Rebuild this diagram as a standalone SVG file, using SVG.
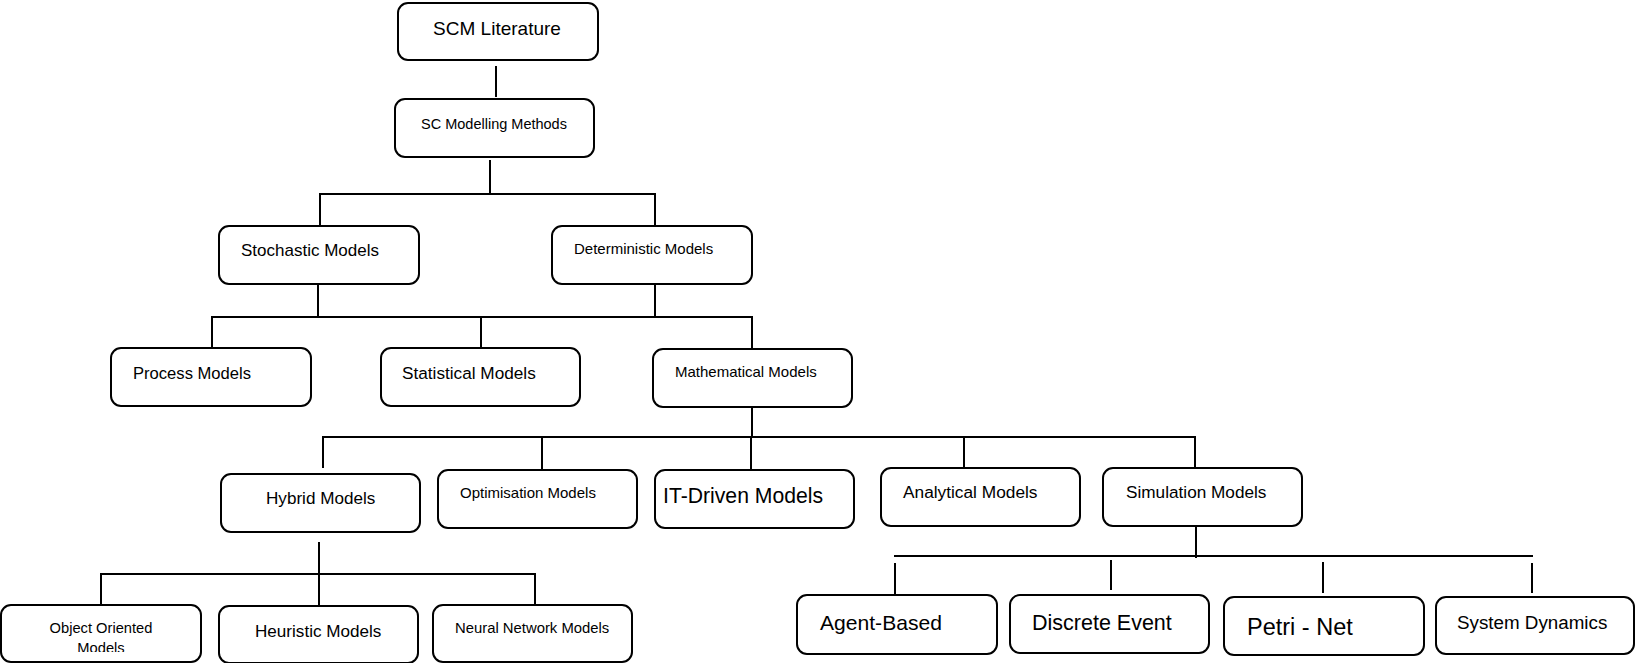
<svg xmlns="http://www.w3.org/2000/svg" width="1635" height="663" viewBox="0 0 1635 663">
<style>
  .box { fill: #ffffff; stroke: #000000; stroke-width: 2; }
  .t { font-family: "Liberation Sans", Arial, sans-serif; fill: #000000; }
  .conn line { stroke: #000000; stroke-width: 2; }
</style>
<defs>
  <clipPath id="clipOO"><rect x="0" y="606" width="200" height="46"/></clipPath>
</defs>
<rect x="0" y="0" width="1635" height="663" fill="#ffffff"/>

<g id="connectors" class="conn">
  <line x1="496" y1="66" x2="496" y2="97"/>
  <line x1="490" y1="160" x2="490" y2="194"/>
  <line x1="319" y1="194" x2="656" y2="194"/>
  <line x1="320" y1="194" x2="320" y2="226"/>
  <line x1="655" y1="194" x2="655" y2="226"/>
  <line x1="318" y1="285" x2="318" y2="316"/>
  <line x1="655" y1="285" x2="655" y2="316"/>
  <line x1="211" y1="317" x2="753" y2="317"/>
  <line x1="212" y1="317" x2="212" y2="348"/>
  <line x1="481" y1="317" x2="481" y2="348"/>
  <line x1="752" y1="317" x2="752" y2="349"/>
  <line x1="752" y1="407" x2="752" y2="438"/>
  <line x1="322" y1="437" x2="1196" y2="437"/>
  <line x1="323" y1="437" x2="323" y2="468"/>
  <line x1="542" y1="437" x2="542" y2="470"/>
  <line x1="751" y1="437" x2="751" y2="470"/>
  <line x1="964" y1="437" x2="964" y2="468"/>
  <line x1="1195" y1="437" x2="1195" y2="470"/>
  <line x1="319" y1="542" x2="319" y2="606"/>
  <line x1="100" y1="574" x2="536" y2="574"/>
  <line x1="101" y1="574" x2="101" y2="605"/>
  <line x1="535" y1="574" x2="535" y2="605"/>
  <line x1="1196" y1="527" x2="1196" y2="558"/>
  <line x1="894" y1="556" x2="1533" y2="556"/>
  <line x1="895" y1="563" x2="895" y2="594"/>
  <line x1="1111" y1="560" x2="1111" y2="590"/>
  <line x1="1323" y1="562" x2="1323" y2="593"/>
  <line x1="1532" y1="563" x2="1532" y2="593"/>
</g>

<g id="n-scm-literature">
  <rect class="box" x="398" y="3" width="200" height="57" rx="10"/>
  <text class="t" x="497" y="35" font-size="19" text-anchor="middle">SCM Literature</text>
</g>
<g id="n-sc-modelling-methods">
  <rect class="box" x="395" y="99" width="199" height="58" rx="10"/>
  <text class="t" x="494" y="129" font-size="14.5" text-anchor="middle">SC Modelling Methods</text>
</g>
<g id="n-stochastic">
  <rect class="box" x="219" y="226" width="200" height="58" rx="10"/>
  <text class="t" x="241" y="256" font-size="17">Stochastic Models</text>
</g>
<g id="n-deterministic">
  <rect class="box" x="552" y="226" width="200" height="58" rx="10"/>
  <text class="t" x="574" y="254" font-size="15">Deterministic Models</text>
</g>
<g id="n-process">
  <rect class="box" x="111" y="348" width="200" height="58" rx="10"/>
  <text class="t" x="133" y="379" font-size="16.6">Process Models</text>
</g>
<g id="n-statistical">
  <rect class="box" x="381" y="348" width="199" height="58" rx="10"/>
  <text class="t" x="402" y="379" font-size="17.2">Statistical Models</text>
</g>
<g id="n-mathematical">
  <rect class="box" x="653" y="349" width="199" height="58" rx="10"/>
  <text class="t" x="675" y="377" font-size="15">Mathematical Models</text>
</g>
<g id="n-hybrid">
  <rect class="box" x="221" y="474" width="199" height="58" rx="10"/>
  <text class="t" x="266" y="504" font-size="17.1">Hybrid Models</text>
</g>
<g id="n-optimisation">
  <rect class="box" x="438" y="470" width="199" height="58" rx="10"/>
  <text class="t" x="460" y="498" font-size="15">Optimisation Models</text>
</g>
<g id="n-it-driven">
  <rect class="box" x="655" y="470" width="199" height="58" rx="10"/>
  <text class="t" x="663" y="503" font-size="21.2">IT-Driven Models</text>
</g>
<g id="n-analytical">
  <rect class="box" x="881" y="468" width="199" height="58" rx="10"/>
  <text class="t" x="903" y="498" font-size="17.3">Analytical Models</text>
</g>
<g id="n-simulation">
  <rect class="box" x="1103" y="468" width="199" height="58" rx="10"/>
  <text class="t" x="1126" y="498" font-size="17.2">Simulation Models</text>
</g>
<g id="n-object-oriented">
  <rect class="box" x="1" y="605" width="200" height="57" rx="10"/>
  <g clip-path="url(#clipOO)">
    <text class="t" x="101" y="633" font-size="14.7" text-anchor="middle">Object Oriented</text>
    <text class="t" x="101" y="653" font-size="14.7" text-anchor="middle">Models</text>
  </g>
</g>
<g id="n-heuristic">
  <rect class="box" x="219" y="606" width="199" height="57" rx="10"/>
  <text class="t" x="255" y="637" font-size="17.1">Heuristic Models</text>
</g>
<g id="n-neural">
  <rect class="box" x="433" y="605" width="199" height="57" rx="10"/>
  <text class="t" x="455" y="633" font-size="14.85">Neural Network Models</text>
</g>
<g id="n-agent-based">
  <rect class="box" x="797" y="595" width="200" height="59" rx="10"/>
  <text class="t" x="820" y="630" font-size="21.1">Agent-Based</text>
</g>
<g id="n-discrete-event">
  <rect class="box" x="1010" y="595" width="199" height="58" rx="10"/>
  <text class="t" x="1032" y="630" font-size="21.5">Discrete Event</text>
</g>
<g id="n-petri-net">
  <rect class="box" x="1224" y="597" width="200" height="58" rx="10"/>
  <text class="t" x="1247" y="635" font-size="23.5">Petri - Net</text>
</g>
<g id="n-system-dynamics">
  <rect class="box" x="1436" y="597" width="198" height="57" rx="10"/>
  <text class="t" x="1457" y="629" font-size="18.8">System Dynamics</text>
</g>
</svg>
